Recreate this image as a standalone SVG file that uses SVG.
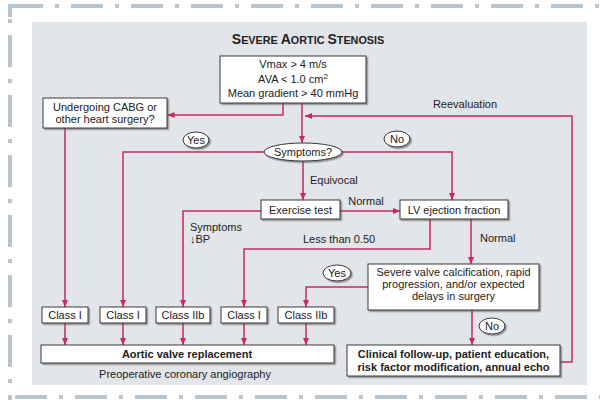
<svg xmlns="http://www.w3.org/2000/svg" width="600" height="400" viewBox="0 0 600 400">
<defs>
<style>
.frame{fill:none;stroke:#b9c6cf;stroke-width:4;stroke-dasharray:32 12 4 12}
.box{fill:#fff;stroke:#3a3a3a;stroke-width:1;filter:url(#sh)}
.t{font-family:"Liberation Sans",Arial,sans-serif;font-size:11px;fill:#222;text-anchor:middle}
.s{text-anchor:start}
.b{font-weight:bold}
.c{fill:none;stroke:#c72a5b;stroke-width:1.5;marker-end:url(#ah)}
</style>
<filter id="sh" x="-10%" y="-20%" width="130%" height="160%">
<feDropShadow dx="1.5" dy="1.5" stdDeviation="0.7" flood-color="#555" flood-opacity="0.6"/>
</filter>
<marker id="ah" markerUnits="userSpaceOnUse" markerWidth="7" markerHeight="6" viewBox="0 0 7 6" refX="7" refY="3" orient="auto">
<path d="M0,0 L7,3 L0,6 z" fill="#c72a5b"/>
</marker>
</defs>
<rect width="600" height="400" fill="#fff"/>
<g id="frame">
<path class="frame" d="M10,6 V400" stroke-dashoffset="31"/>
<path class="frame" d="M10,6 H600" stroke-dashoffset="59"/>
<path class="frame" d="M10,397 H600" stroke-dashoffset="55"/>
<path d="M10,17 V6 H23" fill="none" stroke="#b9c6cf" stroke-width="4"/>
</g>
<rect id="panel" x="32" y="22" width="555" height="363" fill="#e2e5e9"/>
<text class="t b" x="308" y="44"><tspan font-size="14">S</tspan><tspan font-size="10.8">EVERE </tspan><tspan font-size="14">A</tspan><tspan font-size="10.8">ORTIC </tspan><tspan font-size="14">S</tspan><tspan font-size="10.8">TENOSIS</tspan></text>
<g id="connectors">
<path class="c" d="M283,103 V115 H167.5"/>
<path class="c" d="M302,103 V143"/>
<path class="c" d="M560,362 H572 V116 H305"/>
<path class="c" d="M65,128 V307"/>
<path class="c" d="M264,152 H123 V307"/>
<path class="c" d="M342,152 H452 V200"/>
<path class="c" d="M303,161 V200"/>
<path class="c" d="M340,211 H400"/>
<path class="c" d="M261,211 H183 V307"/>
<path class="c" d="M430,219 V249 H244 V307"/>
<path class="c" d="M471,219 V264"/>
<path class="c" d="M368,287 H306 V307"/>
<path class="c" d="M472,310 V345"/>
<path class="c" d="M65,323 V345"/>
<path class="c" d="M123,323 V345"/>
<path class="c" d="M183,323 V345"/>
<path class="c" d="M244,323 V345"/>
<path class="c" d="M306,323 V345"/>
</g>
<g id="criteria">
<rect class="box" x="220" y="56" width="146" height="47"/>
<text class="t" x="293" y="68">Vmax &gt; 4 m/s</text>
<text class="t" x="293" y="83">AVA &lt; 1.0 cm<tspan font-size="8" dy="-4">2</tspan></text>
<text class="t" x="293" y="97">Mean gradient &gt; 40 mmHg</text>
</g>
<g id="cabg">
<rect class="box" x="43" y="98" width="124" height="30"/>
<text class="t" x="105" y="111">Undergoing CABG or</text>
<text class="t" x="105" y="123">other heart surgery?</text>
</g>
<text id="reeval" class="t" x="465" y="108">Reevaluation</text>
<g id="yes1">
<ellipse class="box" cx="196" cy="140" rx="13" ry="8"/>
<text class="t" x="196" y="144">Yes</text>
</g>
<g id="no1">
<ellipse class="box" cx="397" cy="139" rx="13" ry="8"/>
<text class="t" x="397" y="143">No</text>
</g>
<g id="symptoms">
<ellipse class="box" cx="303" cy="152" rx="39" ry="9"/>
<text class="t" x="303" y="156">Symptoms?</text>
</g>
<text class="t s" x="310" y="184">Equivocal</text>
<g id="exercise">
<rect class="box" x="261" y="200" width="79" height="19"/>
<text class="t" x="300.5" y="213.5">Exercise test</text>
</g>
<text class="t" x="366" y="205">Normal</text>
<g id="lvef">
<rect class="box" x="400" y="200" width="108" height="19"/>
<text class="t" x="454" y="213.5">LV ejection fraction</text>
</g>
<text class="t s" x="190" y="231">Symptoms</text>
<text class="t s" x="190" y="243">↓BP</text>
<text class="t s" x="303" y="243">Less than 0.50</text>
<text class="t s" x="480" y="242">Normal</text>
<g id="yes2">
<ellipse class="box" cx="337" cy="273" rx="14" ry="8"/>
<text class="t" x="337" y="277">Yes</text>
</g>
<g id="severe">
<rect class="box" x="368" y="264" width="171" height="46"/>
<text class="t" x="453.5" y="276">Severe valve calcification, rapid</text>
<text class="t" x="453.5" y="288">progression, and/or expected</text>
<text class="t" x="453.5" y="300">delays in surgery</text>
</g>
<g id="no2">
<ellipse class="box" cx="492" cy="326" rx="13" ry="8"/>
<text class="t" x="492" y="330">No</text>
</g>
<g id="class1a">
<rect class="box" x="42" y="307" width="46" height="16"/>
<text class="t" x="65" y="319">Class I</text>
</g>
<g id="class1b">
<rect class="box" x="100" y="307" width="46" height="16"/>
<text class="t" x="123" y="319">Class I</text>
</g>
<g id="class2a">
<rect class="box" x="156" y="307" width="54" height="16"/>
<text class="t" x="183" y="319">Class IIb</text>
</g>
<g id="class1c">
<rect class="box" x="221" y="307" width="46" height="16"/>
<text class="t" x="244" y="319">Class I</text>
</g>
<g id="class2b">
<rect class="box" x="278" y="307" width="56" height="16"/>
<text class="t" x="306" y="319">Class IIb</text>
</g>
<g id="avr">
<rect class="box" x="41" y="345" width="293" height="18"/>
<text class="t b" x="187" y="358">Aortic valve replacement</text>
</g>
<text class="t" x="185" y="378">Preoperative coronary angiography</text>
<g id="followup">
<rect class="box" x="347" y="345" width="213" height="31"/>
<text class="t b" x="453.5" y="357.5">Clinical follow-up, patient education,</text>
<text class="t b" x="453.5" y="370.5">risk factor modification, annual echo</text>
</g>
</svg>
